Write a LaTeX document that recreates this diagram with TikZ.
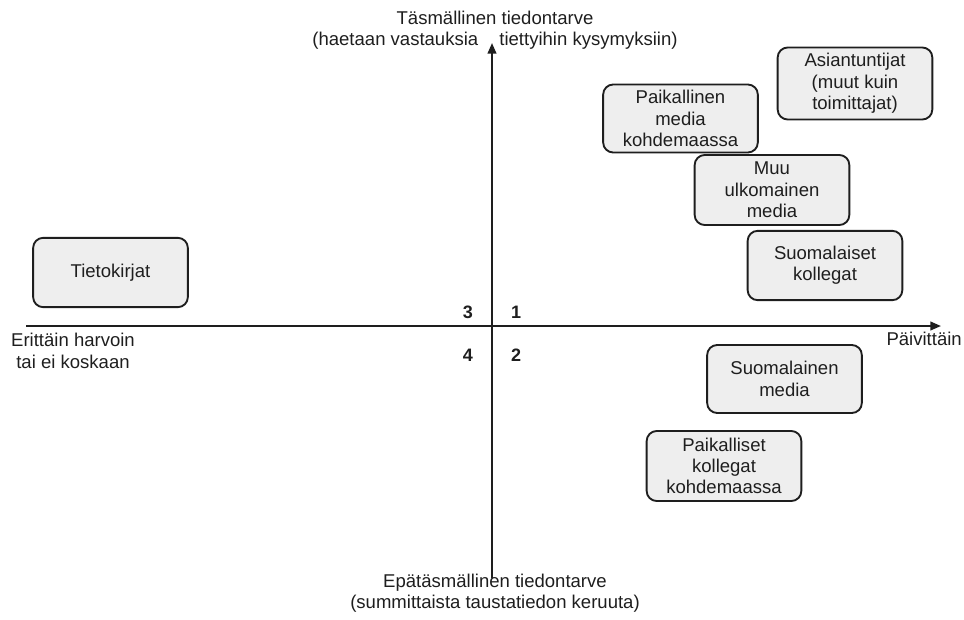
\documentclass[tikz,border=0pt]{standalone}
\usepackage{fontspec}
\setmainfont{Liberation Sans}
\usetikzlibrary{arrows.meta}
\definecolor{boxfill}{HTML}{EEEEEE}
\definecolor{ink}{HTML}{1E1E1E}
\begin{document}
\begin{tikzpicture}[x=0.75pt,y=-0.75pt,
  every node/.style={text=ink, font=\fontsize{13.9pt}{16pt}\selectfont},
  source/.style={draw=ink, line width=1.4pt, fill=boxfill, rounded corners=7.5pt,
    minimum width=116pt, align=center, inner sep=0pt},
  axis/.style={draw=ink, line width=1.5pt, -{Triangle[length=8pt,width=6.5pt]}},
  quad/.style={font=\fontsize{13.5pt}{16pt}\selectfont\bfseries},
  label/.style={align=center, inner sep=0pt}]
\useasboundingbox (0,0) rectangle (964,619);

% axis end points
\coordinate (xl) at (26,326);
\coordinate (xr) at (941,326);
\coordinate (yb) at (492,578);
\coordinate (yt) at (492,43);

\draw[axis] (xl) -- (xr);
\draw[axis] (yb) -- (yt);

% axis captions
\node[label] (top) at (495,30) {Täsmällinen tiedontarve\\(haetaan vastauksia\hspace{12pt} tiettyihin kysymyksiin)};
\node[label] (bottom) at (495,593) {Epätäsmällinen tiedontarve\\(summittaista taustatiedon keruuta)};
\node[label] (left) at (73,351) {Erittäin harvoin\\tai ei koskaan};
\node[label, anchor=east] (right) at (962,339) {Päivittäin};

% quadrant numbers
\node[quad] (q3) at (468,312) {3};
\node[quad] (q1) at (516,312) {1};
\node[quad] (q4) at (468,355) {4};
\node[quad] (q2) at (516,355) {2};

% information sources
\node[source, minimum height=52pt] (tieto) at (110.5,272.5) {Tietokirjat};
\node[source, minimum height=51pt] (paikmedia) at (680.5,118.5) {Paikallinen\\media\\kohdemaassa};
\node[source, minimum height=54pt] (asiant) at (855,83.5) {Asiantuntijat\\(muut kuin\\toimittajat)};
\node[source, minimum height=52.5pt] (muu) at (772,190) {Muu\\ulkomainen\\media};
\node[source, minimum height=52pt] (suomkoll) at (825,265.5) {Suomalaiset\\kollegat};
\node[source, minimum height=51pt] (suommedia) at (784.5,379) {Suomalainen\\media};
\node[source, minimum height=52.5pt] (paikkoll) at (724,466) {Paikalliset\\kollegat\\kohdemaassa};
\end{tikzpicture}
\end{document}
